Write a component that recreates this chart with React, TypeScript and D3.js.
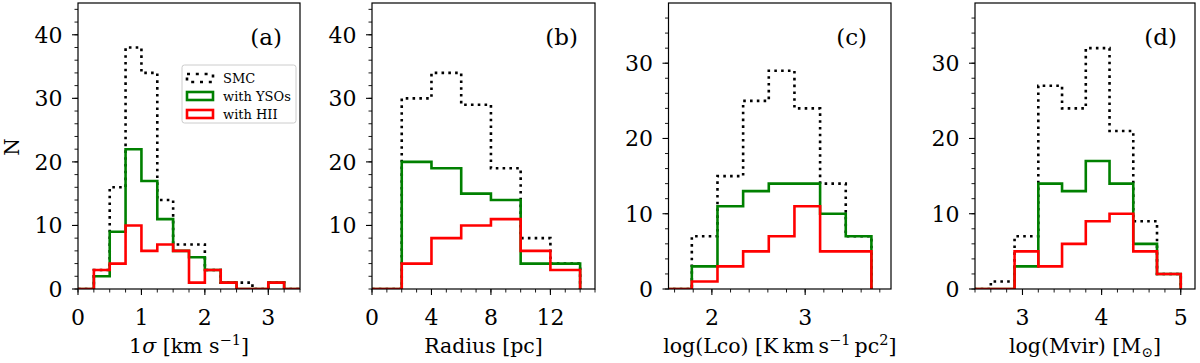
import React from 'react';
import * as d3 from 'd3';

// histogram bin edges and counts
const sigmaEdges = [0, 0.25, 0.5, 0.75, 1, 1.25, 1.5, 1.75, 2, 2.25, 2.5, 2.75, 3, 3.25, 3.5];
const sigmaSMC = [0, 3, 16, 38, 34, 14, 7, 7, 3, 1, 1, 0, 1, 0];
const sigmaYSO = [0, 2, 9, 22, 17, 11, 6, 5, 3, 1, 0, 0, 1, 0];
const sigmaHII = [0, 3, 4, 10, 6, 7, 6, 1, 3, 1, 0, 0, 1, 0];

const radiusEdges = [0, 2, 4, 6, 8, 10, 12, 14];
const radiusSMC = [0, 30, 34, 29, 19, 8, 4];
const radiusYSO = [0, 20, 19, 15, 14, 4, 4];
const radiusHII = [0, 4, 8, 10, 11, 6, 3];

const lcoEdges = [1.51, 1.785, 2.06, 2.335, 2.61, 2.885, 3.16, 3.435, 3.71];
const lcoSMC = [0, 7, 15, 25, 29, 24, 14, 7];
const lcoYSO = [0, 3, 11, 13, 14, 14, 10, 7];
const lcoHII = [0, 1, 3, 5, 7, 11, 5, 5];

const mvirEdges = [2.3, 2.6, 2.9, 3.2, 3.5, 3.8, 4.1, 4.4, 4.7, 5.0];
const mvirSMC = [0, 1, 7, 27, 24, 32, 21, 9, 2];
const mvirYSO = [0, 0, 3, 14, 13, 17, 14, 6, 2];
const mvirHII = [0, 0, 5, 3, 6, 9, 10, 5, 2];

// tick labels
const sigmaTicks = [0, 1, 2, 3];
const radiusTicks = [0, 4, 8, 12];
const lcoTicks = [2, 3];
const mvirTicks = [3, 4, 5];
const countTicksA = [0, 10, 20, 30, 40];
const countTicksB = [10, 20, 30, 40];
const countTicksCD = [0, 10, 20, 30];

const legendNames = ['SMC', 'with YSOs', 'with HII'];

const FONT = 'DejaVu Serif';
const TOP = 3;
const BOTTOM = 289;
const TS = '\u2009'; // thin space, like mathtext

const panels = [
  {
    id: 'a', left: 78, right: 300, xDomain: [0, 3.5], yMax: 45,
    edges: sigmaEdges, smc: sigmaSMC, yso: sigmaYSO, hii: sigmaHII,
    xTicks: sigmaTicks, xMinor: d3.range(0, 3.51, 0.25),
    yTicks: countTicksA, yMinor: d3.range(0, 45, 2), tagOff: 18,
    label: <>1<tspan fontStyle="italic">σ</tspan> [km s<tspan dy={-8} fontSize={14.5}>−1</tspan><tspan dy={8}>]</tspan></>,
  },
  {
    id: 'b', left: 372, right: 595, xDomain: [0, 15], yMax: 45,
    edges: radiusEdges, smc: radiusSMC, yso: radiusYSO, hii: radiusHII,
    xTicks: radiusTicks, xMinor: d3.range(0, 15.1, 1),
    yTicks: countTicksB, yMinor: d3.range(0, 45, 2), tagOff: 17,
    label: <>Radius [pc]</>,
  },
  {
    id: 'c', left: 668.5, right: 891, xDomain: [1.535, 3.92], yMax: 38,
    edges: lcoEdges, smc: lcoSMC, yso: lcoYSO, hii: lcoHII,
    xTicks: lcoTicks, xMinor: d3.range(1.6, 3.91, 0.2),
    yTicks: countTicksCD, yMinor: d3.range(0, 38, 2), tagOff: 24,
    label: <>log(Lco) [K{TS}km{TS}s<tspan dy={-8} fontSize={14.5}>−1</tspan><tspan dy={8}>{TS}pc</tspan><tspan dy={-8} fontSize={14.5}>2</tspan><tspan dy={8}>]</tspan></>,
  },
  {
    id: 'd', left: 975, right: 1195, xDomain: [2.4, 5.18], yMax: 38,
    edges: mvirEdges, smc: mvirSMC, yso: mvirYSO, hii: mvirHII,
    xTicks: mvirTicks, xMinor: d3.range(2.4, 5.19, 0.2),
    yTicks: countTicksCD, yMinor: d3.range(0, 38, 2), tagOff: 18,
    label: <>log(Mvir) [M<tspan dy={4} fontSize={14}>⊙</tspan><tspan dy={-4}>]</tspan></>,
  },
];

function stepPoints(edges: number[], counts: number[]): [number, number][] {
  const pts: [number, number][] = [[edges[0], 0]];
  counts.forEach((c, i) => {
    pts.push([edges[i], c]);
    pts.push([edges[i + 1], c]);
  });
  pts.push([edges[edges.length - 1], 0]);
  return pts;
}

function Panel({ p }: { p: any }) {
  const x = d3.scaleLinear().domain(p.xDomain).range([p.left, p.right]);
  const y = d3.scaleLinear().domain([0, p.yMax]).range([BOTTOM, TOP]);
  const line = d3.line<[number, number]>().x(d => x(d[0])).y(d => y(d[1]));
  const clipId = 'clip-' + p.id;
  const series = [
    { data: p.smc, color: '#000000', dash: '2.6,4.2' },
    { data: p.yso, color: '#008000', dash: null },
    { data: p.hii, color: '#ff0000', dash: null },
  ];
  return (
    <g>
      <defs>
        <clipPath id={clipId}>
          <rect x={p.left} y={TOP} width={p.right - p.left} height={BOTTOM - TOP} />
        </clipPath>
      </defs>
      <g clipPath={`url(#${clipId})`}>
        {series.map((s, i) => (
          <path key={i} d={line(stepPoints(p.edges, s.data)) || ''} fill="none"
            stroke={s.color} strokeWidth={2.6} strokeDasharray={s.dash || undefined}
            strokeLinejoin="miter" />
        ))}
      </g>
      {/* minor ticks */}
      {p.xMinor.map((v: number, i: number) => (
        <line key={'xm' + i} x1={x(v)} x2={x(v)} y1={BOTTOM} y2={BOTTOM + 3.5} stroke="#000" strokeWidth={0.9} />
      ))}
      {p.yMinor.map((v: number, i: number) => (
        <line key={'ym' + i} x1={p.left - 3.5} x2={p.left} y1={y(v)} y2={y(v)} stroke="#000" strokeWidth={0.9} />
      ))}
      {p.xTicks.map((v: number) => (
        <g key={'x' + v}>
          <line x1={x(v)} x2={x(v)} y1={BOTTOM} y2={BOTTOM + 6} stroke="#000" strokeWidth={1.1} />
          <text x={x(v)} y={324.5} textAnchor="middle" fontFamily={FONT} fontSize={22}>{v}</text>
        </g>
      ))}
      {p.yTicks.map((v: number) => (
        <g key={'y' + v}>
          <line x1={p.left - 6} x2={p.left} y1={y(v)} y2={y(v)} stroke="#000" strokeWidth={1.1} />
          <text x={p.left - 15.5} y={y(v) + 8} textAnchor="end" fontFamily={FONT} fontSize={22}>{v}</text>
        </g>
      ))}
      <rect x={p.left} y={TOP} width={p.right - p.left} height={BOTTOM - TOP} fill="none" stroke="#000" strokeWidth={1.2} />
      <text x={p.right - p.tagOff} y={45} textAnchor="end" fontFamily={FONT} fontSize={23}>({p.id})</text>
      <text x={(p.left + p.right) / 2} y={353} textAnchor="middle" fontFamily={FONT} fontSize={20.5}>{p.label}</text>
    </g>
  );
}

function Legend() {
  const colors = ['#000000', '#008000', '#ff0000'];
  const rows = [78, 96, 114];
  return (
    <g>
      <rect x={182} y={65} width={114} height={58} rx={2.5} fill="#fff" fillOpacity={0.8} stroke="#cccccc" strokeWidth={1} />
      {legendNames.map((name, i) => (
        <g key={name}>
          <rect x={187} y={rows[i] - 4} width={26} height={8} fill="none" stroke={colors[i]}
            strokeWidth={2.6} strokeDasharray={i === 0 ? '3,5.8' : undefined} />
          <text x={223} y={rows[i] + 4.5} fontFamily={FONT} fontSize={13}>{name}</text>
        </g>
      ))}
    </g>
  );
}

export default function App() {
  return (
    <div style={{ position: 'absolute', left: 0, top: 0 }}>
      <svg width={1200} height={363} style={{ display: 'block', background: '#fff' }}>
        {panels.map(p => <Panel key={p.id} p={p} />)}
        <Legend />
        <text transform="translate(19,147) rotate(-90)" textAnchor="middle" fontFamily={FONT} fontSize={20}>N</text>
      </svg>
    </div>
  );
}
